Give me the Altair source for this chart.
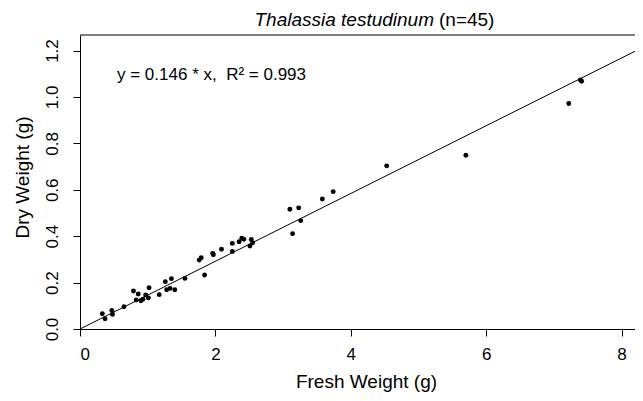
import altair as alt
import pandas as pd

# ---- data ----
fresh = [0.33, 0.37, 0.47, 0.48, 0.65, 0.79, 0.83, 0.86, 0.90, 0.93,
         0.97, 1.01, 1.02, 1.17, 1.26, 1.28, 1.33, 1.35, 1.40, 1.55,
         1.76, 1.79, 1.84, 1.96, 1.97, 2.09, 2.25, 2.25, 2.35, 2.39,
         2.42, 2.51, 2.53, 2.55, 3.10, 3.14, 3.23, 3.26, 3.58, 3.74,
         4.53, 5.70, 7.22, 7.39, 7.41]
dry = [0.066, 0.044, 0.080, 0.063, 0.096, 0.164, 0.125, 0.151, 0.122, 0.128,
       0.147, 0.134, 0.178, 0.148, 0.204, 0.169, 0.175, 0.217, 0.169, 0.218,
       0.297, 0.307, 0.233, 0.326, 0.320, 0.344, 0.369, 0.334, 0.376, 0.391,
       0.387, 0.358, 0.386, 0.372, 0.516, 0.411, 0.522, 0.467, 0.560, 0.592,
       0.703, 0.749, 0.972, 1.073, 1.068]
slope = 0.146
r_squared = 0.993
x_ticks = [0, 2, 4, 6, 8]
y_ticks = [0.0, 0.2, 0.4, 0.6, 0.8, 1.0, 1.2]
x_domain = [0, 8.198]
y_domain = [0, 1.267]
title_italic = "Thalassia testudinum"
title_plain = "(n=45)"
annotation = f"y = {slope} * x,\u00a0 R\u00b2 = {r_squared}"

W, H = 555, 294
FONT = "Liberation Sans"

pts = pd.DataFrame({"fresh": fresh, "dry": dry})
line_df = pd.DataFrame({"fresh": x_domain})

xs = alt.Scale(domain=x_domain, nice=False, zero=False)
ys = alt.Scale(domain=y_domain, nice=False, zero=False)

x_axis = alt.Axis(values=x_ticks, format="d", title="Fresh Weight (g)",
                  titleX=286, titleY=58, titleAlign="center",
                  titleBaseline="alphabetic", labelPadding=10,
                  labelBaseline="top")
y_axis = alt.Axis(values=y_ticks, format=".1f", title="Dry Weight (g)",
                  labelAngle=270, labelAlign="center",
                  labelBaseline="alphabetic", labelPadding=16,
                  titleAngle=270, titleX=-52, titleY=142,
                  titleAlign="center", titleBaseline="alphabetic")

points = alt.Chart(pts).mark_circle(size=24, color="black", opacity=1).encode(
    x=alt.X("fresh:Q", scale=xs, axis=x_axis),
    y=alt.Y("dry:Q", scale=ys, axis=y_axis),
)

fit = alt.Chart(line_df).transform_calculate(
    dry=f"{slope} * datum.fresh"
).mark_line(color="black", strokeWidth=1, clip=True).encode(
    x=alt.X("fresh:Q", scale=xs),
    y=alt.Y("dry:Q", scale=ys),
)

frame_top = alt.Chart(pd.DataFrame({"k": [0]})).mark_rule(
    color="black", strokeWidth=1
).encode(x=alt.value(0), x2=alt.value(W), y=alt.value(0))

ann = alt.Chart(pd.DataFrame({"t": [annotation]})).mark_text(
    align="left", baseline="alphabetic", font=FONT, fontSize=17, color="black"
).encode(text="t:N", x=alt.value(37), y=alt.value(45))

t1 = alt.Chart(pd.DataFrame({"t": [title_italic]})).mark_text(
    align="right", baseline="alphabetic", font=FONT, fontSize=19,
    fontStyle="italic", color="black"
).encode(text="t:N", x=alt.value(354), y=alt.value(-9))

t2 = alt.Chart(pd.DataFrame({"t": [title_plain]})).mark_text(
    align="left", baseline="alphabetic", font=FONT, fontSize=19, color="black"
).encode(text="t:N", x=alt.value(359), y=alt.value(-9))

chart = alt.layer(fit, points, frame_top, ann, t1, t2).properties(
    width=W, height=H,
    autosize=alt.AutoSizeParams(type="none"),
    padding={"left": 72, "top": 27, "right": 0, "bottom": 64},
    background="white",
).configure_view(stroke=None).configure_axis(
    grid=False, domainColor="black", domainWidth=1, tickColor="black",
    tickSize=7, tickWidth=1, labelColor="black", titleColor="black",
    labelFont=FONT, titleFont=FONT, labelFontSize=17, titleFontSize=19,
    titleFontWeight="normal",
)

chart.save("out.html", embed_options={"renderer": "svg", "actions": False})
